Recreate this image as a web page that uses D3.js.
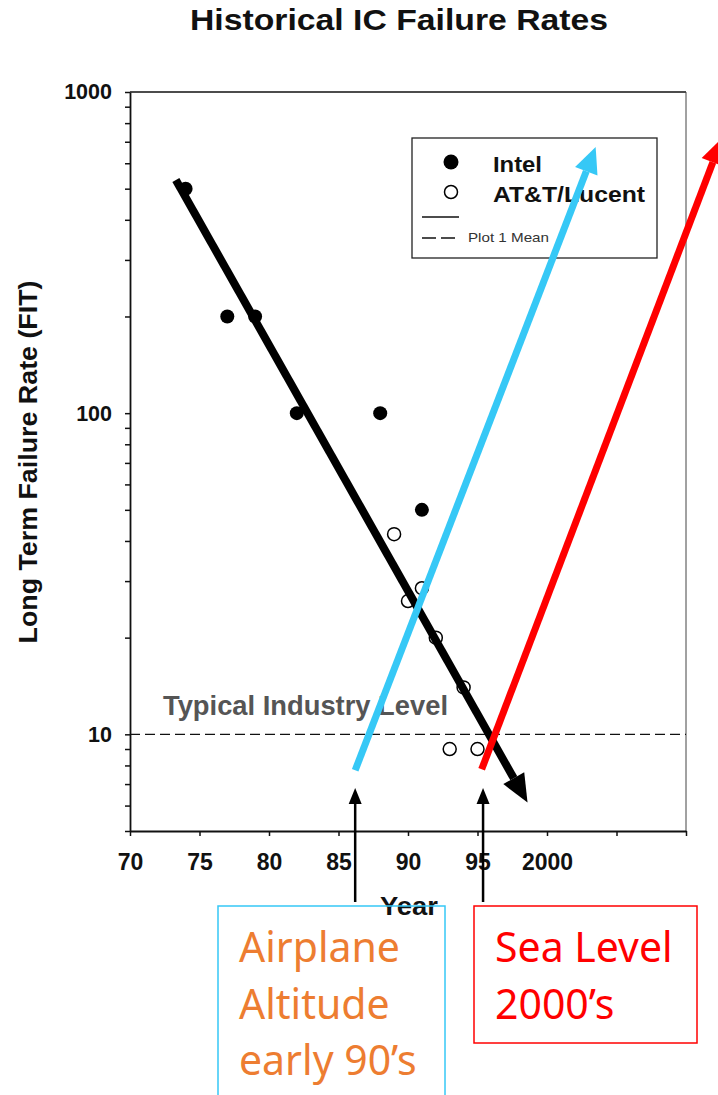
<!DOCTYPE html>
<html>
<head>
<meta charset="utf-8">
<script src="https://cdn.jsdelivr.net/npm/d3@7.9.0/dist/d3.min.js"></script>
<style>
  body { margin: 0; background: #fff; }
  svg { display: block; }
  .axis text { font-family: "Liberation Sans", Arial, sans-serif; font-weight: bold; fill: #111; }
</style>
</head>
<body>
<svg id="chart" width="718" height="1095"></svg>
<script>
// data
const intelYears = [74, 77, 79, 82, 88, 91];
const intelFit = [500, 200, 200, 100, 100, 50];
const lucentYears = [89, 90, 91, 92, 94, 93, 95];
const lucentFit = [42, 26, 28.5, 20, 14, 9, 9];
const xTicks = [70, 75, 80, 85, 90, 95, 100, 105, 110];
const xTickLabels = ["70", "75", "80", "85", "90", "95", "2000", "", ""];
const yLabelTicks = [10, 100, 1000];
const industryLevel = 10;

// overlay arrows, in [year, FIT] pairs
const trendArrow = [[73.3, 532], [98.6, 6.13]];
const airplaneArrow = [[86.2, 7.73], [103.5, 674]];
const seaLevelArrow = [[95.3, 7.78], [112.6, 719]];
const pointerYears = [86.2, 95.4];

const svg = d3.select("#chart");
const plotLeft = 130, plotRight = 686, plotTop = 92, plotBottom = 831;
const sansBold = "Liberation Sans, Arial, sans-serif";

const x = d3.scaleLinear().domain([70, 110]).range([plotLeft, plotRight]);
const y = d3.scaleLog().domain([5, 1000]).range([plotBottom, plotTop]);

// minor ticks on the log axis
let yTicks = [];
[1, 10, 100].forEach(dec => {
  for (let k = 1; k <= 9; k++) {
    let v = k * dec;
    if (v >= 5 && v <= 1000) yTicks.push(v);
  }
});
yTicks.push(1000);

// title
svg.append("text")
  .attr("x", 399).attr("y", 30)
  .attr("text-anchor", "middle")
  .attr("textLength", 418).attr("lengthAdjust", "spacingAndGlyphs")
  .style("font-family", sansBold)
  .style("font-weight", "bold")
  .style("font-size", "30px")
  .attr("fill", "#111")
  .text("Historical IC Failure Rates");

// frame
svg.append("line").attr("x1", plotLeft).attr("x2", plotRight).attr("y1", plotTop).attr("y2", plotTop)
  .attr("stroke", "#111").attr("stroke-width", 1.5);
svg.append("line").attr("x1", plotRight).attr("x2", plotRight).attr("y1", plotTop).attr("y2", plotBottom)
  .attr("stroke", "#444").attr("stroke-width", 1);

// axes
let xAxis = svg.append("g").attr("class", "axis")
  .attr("transform", `translate(0,${plotBottom})`)
  .call(d3.axisBottom(x).tickValues(xTicks)
    .tickFormat((d, i) => xTickLabels[i]).tickSize(5).tickPadding(18).tickSizeOuter(0));
xAxis.selectAll("text").style("font-size", "23px");

let yAxis = svg.append("g").attr("class", "axis")
  .attr("transform", `translate(${plotLeft},0)`)
  .call(d3.axisLeft(y).tickValues(yTicks)
    .tickFormat(d => yLabelTicks.includes(d) ? d : "").tickSize(5).tickPadding(13).tickSizeOuter(0));
yAxis.selectAll("text").style("font-size", "21.5px");

svg.selectAll(".axis path").attr("stroke", "#111").attr("stroke-width", 1.8);
svg.selectAll(".axis line").attr("stroke", "#111").attr("stroke-width", 1.5);

// axis titles
svg.append("text")
  .attr("transform", "translate(37,462) rotate(-90)")
  .attr("text-anchor", "middle")
  .attr("textLength", 363).attr("lengthAdjust", "spacingAndGlyphs")
  .style("font-family", sansBold)
  .style("font-weight", "bold")
  .style("font-size", "25px")
  .attr("fill", "#111")
  .text("Long Term Failure Rate (FIT)");

svg.append("text")
  .attr("x", 409).attr("y", 915)
  .attr("text-anchor", "middle")
  .attr("textLength", 58).attr("lengthAdjust", "spacingAndGlyphs")
  .style("font-family", sansBold)
  .style("font-weight", "bold")
  .style("font-size", "25px")
  .attr("fill", "#111")
  .text("Year");

// typical industry level
svg.append("line")
  .attr("x1", plotLeft).attr("x2", plotRight)
  .attr("y1", y(industryLevel)).attr("y2", y(industryLevel))
  .attr("stroke", "#111").attr("stroke-width", 1.3)
  .attr("stroke-dasharray", "10,5");

svg.append("text")
  .attr("x", 163).attr("y", y(industryLevel) - 19)
  .attr("textLength", 285).attr("lengthAdjust", "spacingAndGlyphs")
  .style("font-family", sansBold)
  .style("font-weight", "bold")
  .style("font-size", "27px")
  .attr("fill", "#555")
  .text("Typical Industry Level");

// points
svg.append("g").selectAll("circle")
  .data(intelYears)
  .join("circle")
  .attr("cx", d => x(d))
  .attr("cy", (d, i) => y(intelFit[i]))
  .attr("r", 7)
  .attr("fill", "#000");

svg.append("g").selectAll("circle")
  .data(lucentYears)
  .join("circle")
  .attr("cx", d => x(d))
  .attr("cy", (d, i) => y(lucentFit[i]))
  .attr("r", 6.5)
  .attr("fill", "#fff")
  .attr("stroke", "#000")
  .attr("stroke-width", 1.5);

// legend
let lg = svg.append("g").attr("transform", "translate(412,138)");
lg.append("rect").attr("width", 245).attr("height", 120)
  .attr("fill", "#fff").attr("stroke", "#222").attr("stroke-width", 1.3);
lg.append("circle").attr("cx", 39).attr("cy", 24).attr("r", 7.5).attr("fill", "#000");
lg.append("circle").attr("cx", 39).attr("cy", 54).attr("r", 6.5)
  .attr("fill", "#fff").attr("stroke", "#000").attr("stroke-width", 1.5);
lg.append("text").attr("x", 81).attr("y", 34).attr("textLength", 49).text("Intel");
lg.append("text").attr("x", 81).attr("y", 64).attr("textLength", 152).text("AT&T/Lucent");
lg.selectAll("text")
  .attr("lengthAdjust", "spacingAndGlyphs")
  .style("font-family", sansBold)
  .style("font-weight", "bold").style("font-size", "22px").attr("fill", "#111");
lg.append("line").attr("x1", 10).attr("x2", 47).attr("y1", 79).attr("y2", 79)
  .attr("stroke", "#111").attr("stroke-width", 1.3);
lg.append("line").attr("x1", 10).attr("x2", 47).attr("y1", 100).attr("y2", 100)
  .attr("stroke", "#111").attr("stroke-width", 1.3).attr("stroke-dasharray", "14,5");
lg.append("text").attr("x", 56).attr("y", 104)
  .attr("textLength", 81).attr("lengthAdjust", "spacingAndGlyphs")
  .style("font-family", sansBold)
  .style("font-size", "13px").attr("fill", "#333")
  .text("Plot 1 Mean");

// arrows
function drawArrow(x1, y1, x2, y2, color, width, headLen, headW) {
  let ang = Math.atan2(y2 - y1, x2 - x1);
  let bx = x2 - headLen * Math.cos(ang), by = y2 - headLen * Math.sin(ang);
  svg.append("line")
    .attr("x1", x1).attr("y1", y1).attr("x2", bx).attr("y2", by)
    .attr("stroke", color).attr("stroke-width", width);
  let px = -Math.sin(ang) * headW / 2, py = Math.cos(ang) * headW / 2;
  svg.append("polygon")
    .attr("points", `${x2},${y2} ${bx + px},${by + py} ${bx - px},${by - py}`)
    .attr("fill", color);
}

drawArrow(x(trendArrow[0][0]), y(trendArrow[0][1]), x(trendArrow[1][0]), y(trendArrow[1][1]),
  "#000", 8, 28, 24);
drawArrow(x(airplaneArrow[0][0]), y(airplaneArrow[0][1]), x(airplaneArrow[1][0]), y(airplaneArrow[1][1]),
  "#36c8f6", 7, 26, 24);
drawArrow(x(seaLevelArrow[0][0]), y(seaLevelArrow[0][1]), x(seaLevelArrow[1][0]), y(seaLevelArrow[1][1]),
  "#ff0000", 7, 26, 24);

pointerYears.forEach(yr => {
  drawArrow(x(yr), 902, x(yr), 788, "#000", 2.5, 16, 13);
});

// callout boxes
svg.append("rect").attr("x", 218).attr("y", 906).attr("width", 227).attr("height", 200)
  .attr("fill", "none").attr("stroke", "#36c8f6").attr("stroke-width", 1.5);
svg.append("rect").attr("x", 474).attr("y", 906).attr("width", 223).attr("height", 137)
  .attr("fill", "none").attr("stroke", "#ff0000").attr("stroke-width", 1.5);

const airplaneLines = ["Airplane", "Altitude", "early 90\u2019s"];
const seaLines = ["Sea Level", "2000\u2019s"];

svg.append("g").selectAll("text")
  .data(airplaneLines).join("text")
  .attr("x", 239).attr("y", (d, i) => 962 + i * 56.5)
  .style("font-family", "Noto Sans, sans-serif")
  .style("font-size", "41px")
  .attr("fill", "#ed7d31")
  .text(d => d);

svg.append("g").selectAll("text")
  .data(seaLines).join("text")
  .attr("x", 495).attr("y", (d, i) => 962 + i * 56.5)
  .style("font-family", "Noto Sans, sans-serif")
  .style("font-size", "41px")
  .attr("fill", "#ff0000")
  .text(d => d);
</script>
</body>
</html>
